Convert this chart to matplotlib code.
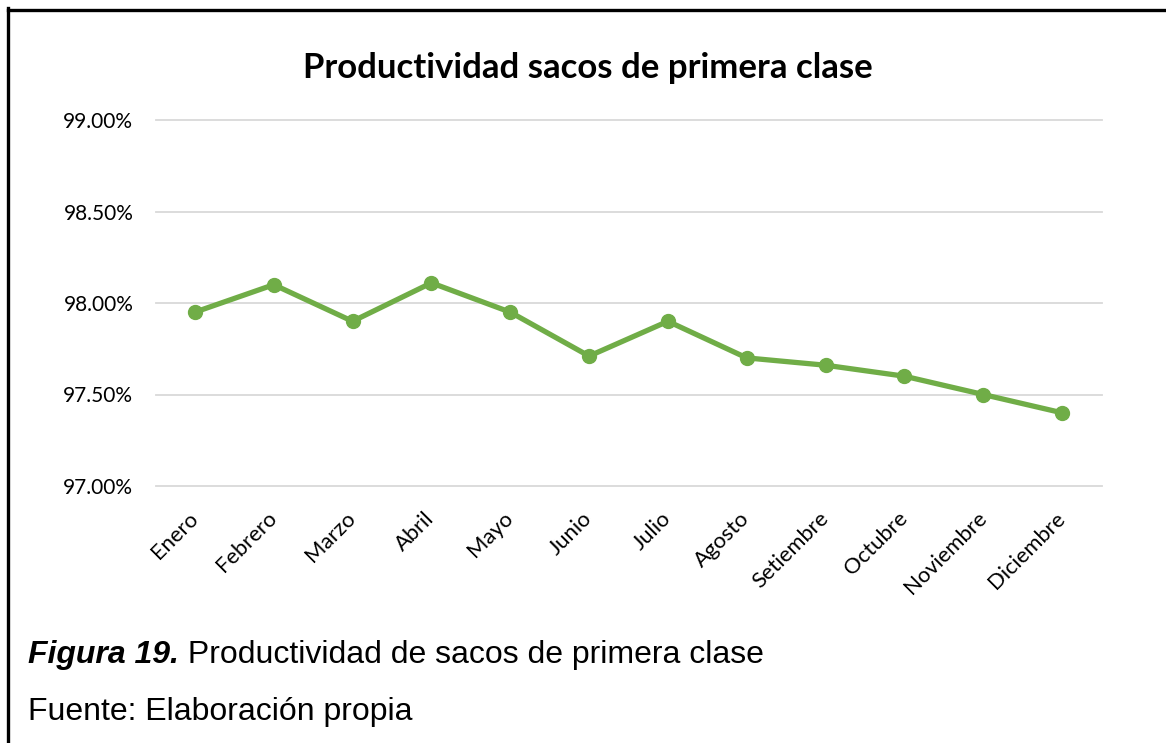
import matplotlib
matplotlib.use("Agg")
import matplotlib.pyplot as plt
from matplotlib.lines import Line2D
import matplotlib.ticker as ticker

# datos
meses = ["Enero", "Febrero", "Marzo", "Abril", "Mayo", "Junio", "Julio",
         "Agosto", "Setiembre", "Octubre", "Noviembre", "Diciembre"]
productividad = [97.95, 98.10, 97.90, 98.11, 97.95, 97.71, 97.90,
                 97.70, 97.66, 97.60, 97.50, 97.40]
y_ticks = [97.0, 97.5, 98.0, 98.5, 99.0]

titulo = "Productividad sacos de primera clase"
pie_1_neg = "Figura 19."
pie_1 = " Productividad de sacos de primera clase"
pie_2 = "Fuente: Elaboración propia"

W, H = 1166, 743
fig = plt.figure(figsize=(W / 100, H / 100), dpi=100)
fig.patch.set_facecolor("white")

# zona del grafico (en pixeles de la imagen)
x0, x1 = 155.5, 1101.5
y_top, y_bot = 120, 486
ax = fig.add_axes([x0 / W, 1 - y_bot / H, (x1 - x0) / W, (y_bot - y_top) / H])

xs = list(range(len(meses)))
ax.plot(xs, productividad, color="#70AD47", lw=3.8, marker="o", ms=10,
        solid_capstyle="round", zorder=3)

ax.set_xlim(-0.5, len(meses) - 0.5)
ax.set_ylim(97.0, 99.0)
ax.set_yticks(y_ticks)
ax.yaxis.set_major_formatter(ticker.FuncFormatter(lambda v, p: "%.2f%%" % v))
ax.grid(axis="y", color="#D9D9D9", lw=1.3)
for gl in ax.yaxis.get_gridlines():
    gl.set_clip_on(False)
ax.set_axisbelow(True)
for s in ax.spines.values():
    s.set_visible(False)

fuente_eje = "Lato"
ax.tick_params(axis="y", length=0, pad=16, labelsize=15, colors="#000000")
ax.tick_params(axis="x", length=0, pad=21, labelsize=15.8)
ax.set_xticks(xs)
ax.set_xticklabels(meses, rotation=45, ha="right", va="center",
                   rotation_mode="anchor")
for lab in ax.get_xticklabels() + ax.get_yticklabels():
    lab.set_family(fuente_eje)

fig.text(588 / W, 1 - 68 / H, titulo, ha="center", va="center",
         fontsize=25, fontweight="bold", family=fuente_eje)

# pie de figura
t1 = fig.text(28 / W, 1 - 663 / H, pie_1_neg, ha="left", va="baseline",
              fontsize=23, fontweight="bold", style="italic",
              family="Liberation Sans")
fig.canvas.draw()
bb = t1.get_window_extent()
fig.text(bb.x1 / W, 1 - 663 / H, pie_1, ha="left", va="baseline",
         fontsize=23, family="Liberation Sans")
fig.text(28 / W, 1 - 720 / H, pie_2, ha="left", va="baseline",
         fontsize=23, family="Liberation Sans")

# marco
fig.add_artist(Line2D([8 / W, 8 / W], [0, 1 - 8 / H], color="black", lw=2.4,
                      transform=fig.transFigure))
fig.add_artist(Line2D([8 / W, 1], [1 - 9.5 / H, 1 - 9.5 / H], color="black",
                      lw=2.4, transform=fig.transFigure))

fig.savefig("out.png", dpi=100, facecolor="white")
